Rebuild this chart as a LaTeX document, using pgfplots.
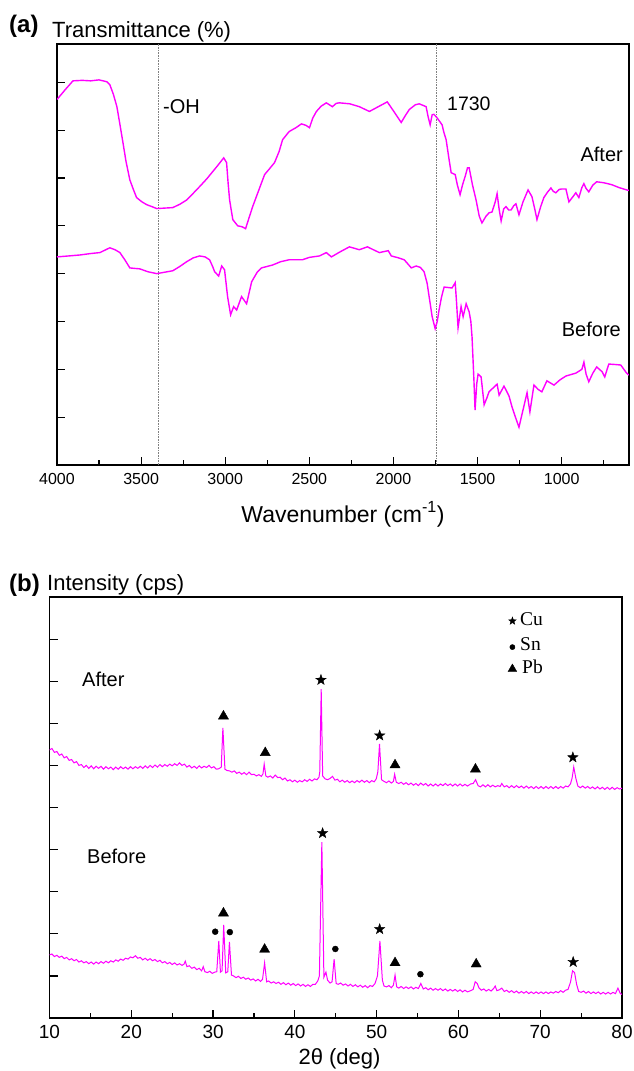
\documentclass[border=0pt]{standalone}
\usepackage{fontspec}
\setmainfont{Liberation Sans}
\newfontfamily\serifft{Liberation Serif}
\usepackage{pgfplots}
\pgfplotsset{compat=1.18}
\definecolor{mag}{RGB}{255,0,255}
\pgfdeclareplotmark{fstar}{%
  \pgfpathmoveto{\pgfpointpolar{90}{\pgfplotmarksize}}%
  \pgfpathlineto{\pgfpointpolar{126}{0.40*\pgfplotmarksize}}%
  \pgfpathlineto{\pgfpointpolar{162}{\pgfplotmarksize}}%
  \pgfpathlineto{\pgfpointpolar{198}{0.40*\pgfplotmarksize}}%
  \pgfpathlineto{\pgfpointpolar{234}{\pgfplotmarksize}}%
  \pgfpathlineto{\pgfpointpolar{270}{0.40*\pgfplotmarksize}}%
  \pgfpathlineto{\pgfpointpolar{306}{\pgfplotmarksize}}%
  \pgfpathlineto{\pgfpointpolar{342}{0.40*\pgfplotmarksize}}%
  \pgfpathlineto{\pgfpointpolar{18}{\pgfplotmarksize}}%
  \pgfpathlineto{\pgfpointpolar{54}{0.40*\pgfplotmarksize}}%
  \pgfpathclose
  \pgfusepathqfillstroke
}
\pgfplotsset{
  panel/.style={
    scale only axis, anchor=south west,
    axis line style={line width=1.4pt, black},
    every tick/.style={line width=1.2pt, black},
    tick align=inside, major tick length=8pt, minor tick length=5pt,
    tick pos=left,
    yticklabels={},
    /pgf/number format/assume math mode=true,
    /pgf/number format/set thousands separator={},
    clip=true,
  },
}
\begin{document}
\begin{tikzpicture}
\path[use as bounding box] (0,0) rectangle (633pt,-1071pt);
% ---------------- (a) FTIR ----------------
\begin{axis}[panel, at={(57pt,-465pt)}, width=572pt, height=421pt,
  xmin=600, xmax=4000, x dir=reverse, ymin=0, ymax=8.8,
  xtick={1000,1500,2000,2500,3000,3500,4000},
  minor xtick={750,1250,1750,2250,2750,3250,3750},
  ytick={1,2,3,4,5,6,7,8},
  xticklabel style={font=\fontsize{16}{18}\selectfont, yshift=-5pt},
]
\addplot[gray, densely dotted, line width=0.6pt] coordinates {(3400,0) (3400,8.8)};
\addplot[gray, densely dotted, line width=0.6pt] coordinates {(1748,0) (1748,8.8)};
\addplot[mag, line width=1.4pt] coordinates {
(4000,7.64) (3950,7.85) (3905,8.03) (3850,8.04) (3800,8.03) (3750,8.05) (3703,8.01) (3686,7.95) (3665,7.75) (3644,7.49) (3625,7.10) (3608,6.74) (3590,6.35) (3567,5.96) (3545,5.75) (3527,5.59) (3495,5.50) (3466,5.44) (3435,5.40) (3407,5.36) (3360,5.37) (3312,5.38) (3270,5.45) (3229,5.54) (3190,5.68) (3152,5.82) (3110,5.98) (3075,6.13) (3040,6.28) (3009,6.42) (2992,6.32) (2983,5.90) (2974,5.54) (2955,5.13) (2926,5.00) (2900,4.98) (2879,4.94) (2860,5.15) (2837,5.40) (2800,5.75) (2766,6.07) (2735,6.20) (2707,6.32) (2680,6.55) (2659,6.80) (2620,6.97) (2580,7.05) (2547,7.13) (2520,7.10) (2499,7.05) (2480,7.25) (2458,7.39) (2430,7.50) (2399,7.57) (2363,7.49) (2340,7.56) (2321,7.57) (2260,7.55) (2203,7.49) (2143,7.39) (2090,7.49) (2037,7.59) (2025,7.53) (1990,7.35) (1954,7.16) (1930,7.30) (1906,7.43) (1870,7.53) (1847,7.55) (1806,7.49) (1794,7.28) (1782,7.11) (1770,7.32) (1760,7.33) (1746,7.28) (1725,7.18) (1711,7.11) (1700,6.95) (1687,6.80) (1670,6.40) (1657,6.11) (1633,6.07) (1620,5.85) (1604,5.65) (1590,5.85) (1574,6.03) (1560,6.21) (1550,6.21) (1530,5.85) (1509,5.54) (1490,5.20) (1474,5.06) (1450,5.20) (1432,5.27) (1414,5.29) (1395,5.50) (1384,5.67) (1372,5.35) (1360,5.10) (1345,5.35) (1331,5.40) (1315,5.33) (1301,5.33) (1285,5.42) (1272,5.46) (1254,5.23) (1230,5.50) (1200,5.75) (1177,5.61) (1160,5.35) (1147,5.13) (1125,5.40) (1106,5.59) (1085,5.70) (1064,5.79) (1050,5.72) (1035,5.69) (1015,5.76) (999,5.77) (975,5.77) (957,5.50) (935,5.60) (916,5.69) (898,5.59) (880,5.80) (868,5.88) (855,5.78) (839,5.71) (815,5.85) (792,5.92) (750,5.90) (703,5.86) (660,5.80) (614,5.75) (600,5.74)
};
\addplot[mag, line width=1.4pt] coordinates {
(4000,4.35) (3930,4.37) (3864,4.39) (3800,4.42) (3745,4.44) (3710,4.50) (3686,4.54) (3655,4.50) (3626,4.44) (3597,4.29) (3567,4.12) (3540,4.11) (3508,4.10) (3460,4.04) (3407,4.00) (3360,4.03) (3312,4.06) (3270,4.15) (3229,4.25) (3190,4.33) (3152,4.37) (3120,4.35) (3093,4.29) (3075,4.15) (3063,4.04) (3039,3.95) (3021,4.16) (3004,4.08) (2986,3.52) (2968,3.14) (2950,3.31) (2932,3.24) (2903,3.52) (2873,3.37) (2843,3.83) (2810,4.03) (2784,4.12) (2719,4.18) (2670,4.25) (2620,4.29) (2541,4.29) (2500,4.34) (2440,4.37) (2399,4.44) (2369,4.35) (2320,4.45) (2262,4.56) (2203,4.50) (2155,4.56) (2084,4.44) (2031,4.48) (2013,4.37) (1970,4.33) (1936,4.29) (1894,4.12) (1865,4.16) (1840,4.13) (1818,4.04) (1800,3.80) (1788,3.52) (1770,3.10) (1752,2.85) (1740,3.00) (1729,3.24) (1715,3.50) (1699,3.72) (1652,3.70) (1633,3.81) (1625,3.40) (1616,2.87) (1598,3.31) (1586,3.10) (1568,3.37) (1550,3.20) (1540,3.00) (1533,2.68) (1522,1.80) (1515,1.15) (1505,1.70) (1497,1.90) (1479,1.84) (1461,1.26) (1445,1.40) (1432,1.53) (1402,1.63) (1384,1.69) (1372,1.46) (1343,1.65) (1313,1.44) (1295,1.21) (1275,1.00) (1254,0.79) (1230,1.15) (1206,1.51) (1189,1.11) (1165,1.67) (1140,1.58) (1118,1.53) (1088,1.76) (1046,1.67) (1010,1.78) (975,1.86) (916,1.92) (880,2.00) (868,2.15) (855,1.90) (839,1.74) (815,1.92) (792,2.05) (760,1.95) (744,1.84) (730,2.00) (720,2.11) (680,2.10) (649,2.09) (614,1.92) (600,1.88)
};
\end{axis}
% ---------------- (b) XRD ----------------
\begin{axis}[panel, at={(49.5pt,-1018pt)}, width=572.5pt, height=421pt,
  xmin=10, xmax=80, ymin=0, ymax=10,
  xtick={10,20,30,40,50,60,70,80},
  minor xtick={15,25,35,45,55,65,75},
  ytick={1,2,3,4,5,6,7,8,9},
  xticklabel style={font=\fontsize{19}{22}\selectfont, yshift=-4pt},
]
\addplot[mag, line width=1.0pt] coordinates {
(10,6.37) (10.3,6.40) (10.6,6.31) (10.9,6.33) (11.2,6.24) (11.5,6.27) (11.8,6.18) (12.1,6.21) (12.4,6.12) (12.7,6.14) (13,6.06) (13.3,6.09) (13.6,6.00) (13.9,6.02) (14.2,5.95) (14.5,6.00) (14.8,5.93) (15.1,5.99) (15.4,5.92) (15.7,5.98) (16,5.93) (16.3,5.98) (16.6,5.91) (16.9,5.97) (17.2,5.92) (17.5,5.96) (17.8,5.90) (18.1,5.96) (18.4,5.91) (18.7,5.97) (19,5.92) (19.3,5.96) (19.6,5.91) (19.9,5.97) (20.2,5.92) (20.5,5.97) (20.8,5.93) (21.1,5.98) (21.4,5.93) (21.7,5.99) (22,5.94) (22.3,6.00) (22.6,5.95) (22.9,6.01) (23.2,5.96) (23.5,6.02) (23.8,5.97) (24.1,6.02) (24.4,5.98) (24.7,6.03) (25,5.99) (25.3,6.04) (25.6,6.00) (25.9,6.06) (26.2,6.00) (26.5,6.03) (26.8,5.96) (27.1,6.00) (27.4,5.94) (27.7,5.98) (28,5.93) (28.3,5.99) (28.6,5.94) (28.9,5.98) (29.2,5.95) (29.5,6.00) (29.8,5.94) (30.1,5.97) (30.4,5.91) (30.7,5.92) (31.0,5.96) (31.2,6.89) (31.45,5.91) (31.7,5.88) (32.0,5.87) (32.3,5.84) (32.6,5.87) (32.9,5.81) (33.2,5.84) (33.5,5.79) (33.8,5.83) (34.1,5.78) (34.4,5.84) (34.7,5.78) (35.0,5.79) (35.3,5.75) (35.6,5.78) (35.9,5.74) (36.1,5.80) (36.25,6.03) (36.45,5.75) (36.7,5.72) (37.0,5.75) (37.3,5.70) (37.6,5.77) (37.9,5.71) (38.2,5.72) (38.5,5.66) (38.8,5.70) (39.1,5.63) (39.4,5.66) (39.7,5.61) (40.0,5.65) (40.3,5.60) (40.6,5.64) (40.9,5.61) (41.2,5.66) (41.5,5.62) (41.8,5.67) (42.1,5.63) (42.4,5.68) (42.7,5.66) (42.95,5.72) (43.05,5.85) (43.22,7.81) (43.4,5.75) (43.7,5.68) (44.0,5.66) (44.3,5.69) (44.6,5.74) (44.9,5.65) (45.2,5.67) (45.5,5.61) (45.8,5.65) (46.1,5.60) (46.4,5.64) (46.7,5.59) (47.0,5.63) (47.3,5.59) (47.6,5.64) (47.9,5.60) (48.2,5.65) (48.5,5.60) (48.8,5.64) (49.1,5.59) (49.4,5.64) (49.7,5.61) (49.95,5.68) (50.15,5.85) (50.35,6.51) (50.6,5.66) (50.9,5.62) (51.2,5.59) (51.5,5.63) (51.8,5.58) (52.05,5.62) (52.2,5.79) (52.4,5.60) (52.7,5.57) (53.0,5.60) (53.3,5.55) (53.6,5.59) (53.9,5.54) (54.2,5.58) (54.5,5.53) (54.8,5.57) (55.1,5.52) (55.4,5.58) (55.7,5.53) (56.0,5.57) (56.3,5.51) (56.6,5.56) (56.9,5.51) (57.2,5.56) (57.5,5.51) (57.8,5.56) (58.1,5.52) (58.4,5.57) (58.7,5.52) (59.0,5.56) (59.3,5.51) (59.6,5.56) (59.9,5.51) (60.2,5.56) (60.5,5.51) (60.8,5.55) (61.1,5.51) (61.5,5.56) (61.8,5.57) (62.1,5.66) (62.4,5.52) (62.7,5.49) (63.0,5.54) (63.3,5.49) (63.6,5.54) (63.9,5.49) (64.2,5.53) (64.5,5.49) (64.8,5.52) (65.1,5.50) (65.3,5.57) (65.6,5.49) (65.9,5.52) (66.2,5.47) (66.5,5.52) (66.8,5.47) (67.1,5.52) (67.4,5.47) (67.7,5.51) (68.0,5.46) (68.3,5.51) (68.6,5.46) (68.9,5.50) (69.2,5.45) (69.5,5.50) (69.8,5.45) (70.1,5.50) (70.4,5.45) (70.7,5.50) (71.0,5.45) (71.3,5.50) (71.6,5.45) (71.9,5.50) (72.2,5.45) (72.5,5.50) (72.8,5.46) (73.1,5.51) (73.4,5.49) (73.7,5.56) (73.9,5.70) (74.1,5.96) (74.35,5.70) (74.6,5.51) (74.9,5.47) (75.2,5.51) (75.5,5.46) (75.8,5.50) (76.1,5.45) (76.4,5.49) (76.7,5.44) (77.0,5.49) (77.3,5.44) (77.6,5.48) (77.9,5.43) (78.2,5.48) (78.5,5.43) (78.8,5.48) (79.1,5.43) (79.4,5.47) (79.7,5.44) (80,5.46)
};
\addplot[mag, line width=1.0pt] coordinates {
(10,1.50) (10.3,1.52) (10.6,1.46) (10.9,1.49) (11.2,1.44) (11.5,1.47) (11.8,1.41) (12.1,1.44) (12.4,1.38) (12.7,1.41) (13,1.36) (13.3,1.39) (13.6,1.33) (13.9,1.36) (14.2,1.31) (14.5,1.34) (14.8,1.29) (15.1,1.33) (15.4,1.28) (15.7,1.33) (16,1.29) (16.3,1.34) (16.6,1.30) (16.9,1.35) (17.2,1.31) (17.5,1.36) (17.8,1.33) (18.1,1.38) (18.4,1.35) (18.7,1.40) (19,1.37) (19.3,1.42) (19.6,1.40) (19.9,1.45) (20.2,1.43) (20.5,1.48) (20.8,1.42) (21.1,1.44) (21.4,1.38) (21.7,1.42) (22,1.37) (22.3,1.41) (22.6,1.36) (22.9,1.39) (23.2,1.34) (23.5,1.37) (23.8,1.31) (24.1,1.34) (24.4,1.29) (24.7,1.32) (25,1.27) (25.3,1.31) (25.6,1.26) (25.9,1.29) (26.2,1.25) (26.45,1.28) (26.6,1.35) (26.8,1.22) (27.1,1.24) (27.4,1.18) (27.7,1.21) (28,1.15) (28.3,1.18) (28.6,1.12) (28.8,1.22) (29.0,1.10) (29.3,1.08) (29.6,1.11) (29.9,1.06) (30.2,1.09) (30.45,1.10) (30.7,1.83) (30.9,1.09) (31.1,1.12) (31.3,2.21) (31.55,1.07) (31.8,1.10) (32.0,1.81) (32.25,1.02) (32.5,1.00) (32.8,0.96) (33.1,0.99) (33.4,0.94) (33.7,0.97) (34.0,0.92) (34.3,0.95) (34.6,0.90) (34.9,0.93) (35.2,0.88) (35.5,0.92) (35.8,0.87) (36.05,0.92) (36.3,1.31) (36.55,0.86) (36.8,0.88) (37.1,0.83) (37.4,0.86) (37.7,0.82) (38.0,0.85) (38.3,0.80) (38.6,0.84) (38.9,0.79) (39.2,0.83) (39.5,0.78) (39.8,0.82) (40.1,0.77) (40.4,0.81) (40.7,0.76) (41.0,0.80) (41.3,0.75) (41.6,0.79) (41.9,0.75) (42.2,0.80) (42.5,0.80) (42.8,0.88) (43.0,1.00) (43.3,4.18) (43.55,0.97) (43.8,1.09) (44.0,0.90) (44.3,0.83) (44.55,0.86) (44.8,1.40) (45.05,0.82) (45.3,0.80) (45.6,0.83) (45.9,0.78) (46.2,0.81) (46.5,0.76) (46.8,0.80) (47.1,0.75) (47.4,0.79) (47.7,0.74) (48.0,0.78) (48.3,0.73) (48.6,0.77) (48.9,0.72) (49.2,0.77) (49.5,0.75) (49.8,0.82) (50.1,1.00) (50.4,1.83) (50.7,0.90) (50.9,0.76) (51.2,0.74) (51.5,0.77) (51.8,0.72) (52.05,0.78) (52.25,1.02) (52.45,0.74) (52.7,0.71) (53.0,0.75) (53.3,0.70) (53.6,0.74) (53.9,0.70) (54.2,0.74) (54.5,0.69) (54.8,0.73) (55.1,0.70) (55.4,0.82) (55.7,0.69) (56.0,0.72) (56.3,0.67) (56.6,0.71) (56.9,0.66) (57.2,0.70) (57.5,0.66) (57.8,0.70) (58.1,0.65) (58.4,0.69) (58.7,0.64) (59.0,0.68) (59.3,0.64) (59.6,0.68) (59.9,0.63) (60.2,0.67) (60.5,0.62) (60.8,0.66) (61.1,0.62) (61.5,0.65) (61.8,0.68) (62.05,0.86) (62.3,0.82) (62.5,0.72) (62.8,0.66) (63.1,0.69) (63.4,0.64) (63.7,0.68) (64.0,0.64) (64.3,0.70) (64.5,0.76) (64.7,0.65) (65.0,0.67) (65.3,0.71) (65.6,0.63) (65.9,0.66) (66.2,0.61) (66.5,0.65) (66.8,0.60) (67.1,0.64) (67.4,0.59) (67.7,0.63) (68.0,0.59) (68.3,0.63) (68.6,0.58) (68.9,0.62) (69.2,0.58) (69.5,0.62) (69.8,0.58) (70.1,0.62) (70.4,0.58) (70.7,0.62) (71.0,0.58) (71.3,0.62) (71.6,0.59) (71.9,0.63) (72.2,0.60) (72.5,0.65) (72.8,0.61) (73.1,0.66) (73.4,0.68) (73.7,0.85) (73.95,1.12) (74.2,1.08) (74.45,0.80) (74.7,0.63) (75.0,0.61) (75.3,0.64) (75.6,0.59) (75.9,0.63) (76.2,0.58) (76.5,0.62) (76.8,0.58) (77.1,0.62) (77.4,0.57) (77.7,0.61) (78.0,0.57) (78.3,0.61) (78.6,0.57) (78.9,0.61) (79.2,0.58) (79.5,0.71) (79.8,0.58) (80,0.56)
};
% annotation marks: Cu (star)
\addplot[only marks, mark=fstar, mark size=5.5pt, black] coordinates {
(43.19,8.03) (50.37,6.71) (73.99,6.19) (43.39,4.39) (50.37,2.11) (74.03,1.33)};
% Sn (circle)
\addplot[only marks, mark=*, mark size=3pt, black] coordinates {
(30.26,2.05) (32.05,2.04) (44.95,1.64) (55.35,1.04)};
% Pb (triangle)
\addplot[only marks, mark=triangle*, mark size=5.8pt, black] coordinates {
(31.27,7.17) (36.38,6.30) (52.25,6.01) (62.08,5.91) (31.27,2.49) (36.3,1.63) (52.25,1.31) (62.17,1.28)};
% legend symbols
\addplot[only marks, mark=fstar, mark size=4pt, black] coordinates {(66.6,9.43)};
\addplot[only marks, mark=*, mark size=2.6pt, black] coordinates {(66.6,8.81)};
\addplot[only marks, mark=triangle*, mark size=5pt, black] coordinates {(66.6,8.29)};
\end{axis}
% ---------------- texts ----------------
\node[anchor=base west, inner sep=0pt, font=\fontsize{24}{28}\selectfont\bfseries] at (9pt,-32pt) {(a)};
\node[anchor=base west, inner sep=0pt, font=\fontsize{22}{26}\selectfont] at (52pt,-37pt) {Transmittance (\%)};
\node[anchor=base, inner sep=0pt, font=\fontsize{23}{27}\selectfont] at (343pt,-522pt) {Wavenumber (cm\textsuperscript{-1})};
\node[anchor=base west, inner sep=0pt, font=\fontsize{20}{24}\selectfont] at (163pt,-113pt) {-OH};
\node[anchor=base west, inner sep=0pt, font=\fontsize{19.5}{24}\selectfont] at (447pt,-110pt) {1730};
\node[anchor=base east, inner sep=0pt, font=\fontsize{20}{24}\selectfont] at (623pt,-161pt) {After};
\node[anchor=base east, inner sep=0pt, font=\fontsize{20}{24}\selectfont] at (621pt,-336pt) {Before};
\node[anchor=base west, inner sep=0pt, font=\fontsize{24}{28}\selectfont\bfseries] at (9pt,-591pt) {(b)};
\node[anchor=base west, inner sep=0pt, font=\fontsize{22}{26}\selectfont] at (47pt,-590pt) {Intensity (cps)};
\node[anchor=base, inner sep=0pt, font=\fontsize{22}{26}\selectfont] at (339.5pt,-1064pt) {2θ (deg)};
\node[anchor=base west, inner sep=0pt, font=\fontsize{20}{24}\selectfont] at (82pt,-686pt) {After};
\node[anchor=base west, inner sep=0pt, font=\fontsize{20}{24}\selectfont] at (87pt,-863pt) {Before};
\node[anchor=base west, inner sep=0pt, font=\serifft\fontsize{19.5}{24}\selectfont] at (520pt,-625pt) {Cu};
\node[anchor=base west, inner sep=0pt, font=\serifft\fontsize{19.5}{24}\selectfont] at (520pt,-650pt) {Sn};
\node[anchor=base west, inner sep=0pt, font=\serifft\fontsize{19.5}{24}\selectfont] at (522pt,-673pt) {Pb};
\end{tikzpicture}
\end{document}
